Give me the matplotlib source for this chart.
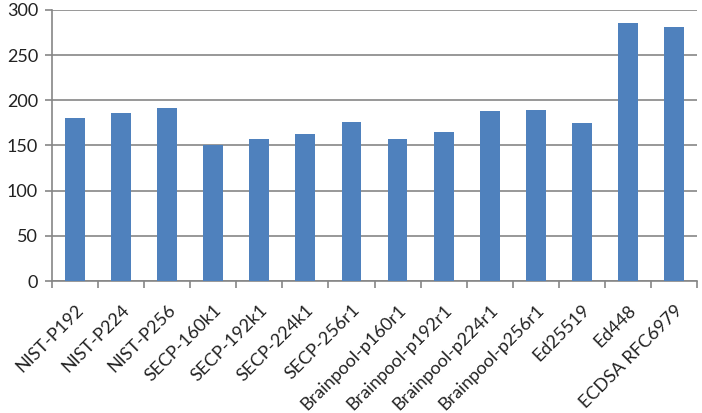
import numpy as np
import matplotlib.pyplot as plt

curves = ["NIST-P192", "NIST-P224", "NIST-P256", "SECP-160k1", "SECP-192k1",
          "SECP-224k1", "SECP-256r1", "Brainpool-p160r1", "Brainpool-p192r1",
          "Brainpool-p224r1", "Brainpool-p256r1", "Ed25519", "Ed448", "ECDSA RFC6979"]
values = [180, 186, 191, 150, 157, 163, 176, 157, 165, 188, 189, 175, 286, 281]
yticks = [0, 50, 100, 150, 200, 250, 300]

plt.rcParams['font.family'] = ['Lato', 'DejaVu Sans']

fig = plt.figure(figsize=(7.02, 4.13), dpi=100)
ax = fig.add_axes([52 / 702, 1 - 281 / 413, 645 / 702, 271 / 413])

x = np.arange(len(curves))
ax.bar(x, values, width=0.43, color="#4F81BD", zorder=3)

ax.set_xlim(-0.5, len(curves) - 0.5)
ax.set_ylim(0, 300)
ax.set_yticks(yticks)
ax.yaxis.grid(True, color="#868686", linewidth=1.2, zorder=0)
for s in ["top", "right"]:
    ax.spines[s].set_visible(False)
for s in ["left", "bottom"]:
    ax.spines[s].set_color("#868686")
    ax.spines[s].set_linewidth(1.2)

ax.set_xticks(np.arange(len(curves) + 1) - 0.5)
ax.set_xticklabels([])
ax.set_xticks(x, minor=True)
ax.set_xticklabels(curves, minor=True, rotation=45, ha="right",
                   rotation_mode="anchor", fontsize=13, color="#222222")
ax.tick_params(axis="x", which="minor", length=0, pad=15)
ax.tick_params(axis="x", which="major", length=5, color="#868686", width=1.2)
ax.tick_params(axis="y", length=5, color="#868686", width=1.2,
               labelsize=13, labelcolor="#222222", pad=5)

fig.savefig("out.png", dpi=100)
